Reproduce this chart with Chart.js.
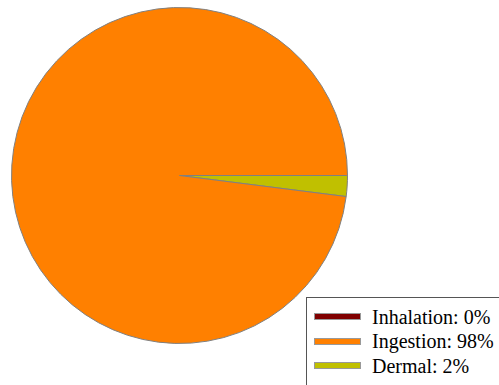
<!DOCTYPE html>
<html>
<head>
<meta charset="utf-8">
<script src="https://cdn.jsdelivr.net/npm/chart.js@4"></script>
<style>
  html, body { margin: 0; padding: 0; background: #fff; }
  #wrap { position: relative; width: 499px; height: 385px; overflow: hidden; }
  #legend {
    position: absolute; left: 306px; top: 297px; width: 220px; height: 120px;
    border: 1px solid #555; background: #fff;
    font-family: "Liberation Serif", "Times New Roman", serif; font-size: 20px; color: #000;
  }
  .row { position: absolute; left: 0; height: 24.5px; line-height: 24.5px; white-space: nowrap; }
  .sw { position: absolute; left: 7px; width: 45px; height: 5px; border: 1px solid #999; }
  .txt { position: absolute; left: 65px; top: 0; }
</style>
</head>
<body>
<div id="wrap">
  <canvas id="chart_pie" width="499" height="385"></canvas>
  <div id="legend"></div>
</div>
<script>
var routes = ['Inhalation', 'Ingestion', 'Dermal'];
var shares = [0, 98, 2];
var colours = ['#800000', '#ff8000', '#c0c000'];

// slices run counter-clockwise from 3 o'clock, so feed them in reverse
var rev = function(a){ return a.slice().reverse(); };

var ctx = document.getElementById('chart_pie');
var myChart = new Chart(ctx, {
    type: 'pie',
    data: {
        labels: rev(routes),
        datasets: [{
            data: rev(shares),
            backgroundColor: rev(colours),
            borderColor: '#808080',
            borderWidth: 1
        }]
    },
    options: {
        responsive: false,
        animation: false,
        rotation: 90,
        layout: { padding: { left: 11, right: 151, top: 7, bottom: 41 } },
        plugins: {
            legend: { display: false },
            tooltip: { enabled: false }
        }
    }
});

var legend = document.getElementById('legend');
$each = function(arr, fn){ for (var i = 0; i < arr.length; i++) fn(i, arr[i]); };
$each(routes, function(i, name){
    var row = document.createElement('div');
    row.className = 'row';
    row.style.top = (6.5 + i * 24.5) + 'px';
    row.style.width = '220px';
    var sw = document.createElement('div');
    sw.className = 'sw';
    sw.style.top = '8.5px';
    sw.style.background = colours[i];
    var txt = document.createElement('span');
    txt.className = 'txt';
    txt.textContent = name + ': ' + shares[i] + '%';
    row.appendChild(sw);
    row.appendChild(txt);
    legend.appendChild(row);
});
</script>
</body>
</html>
